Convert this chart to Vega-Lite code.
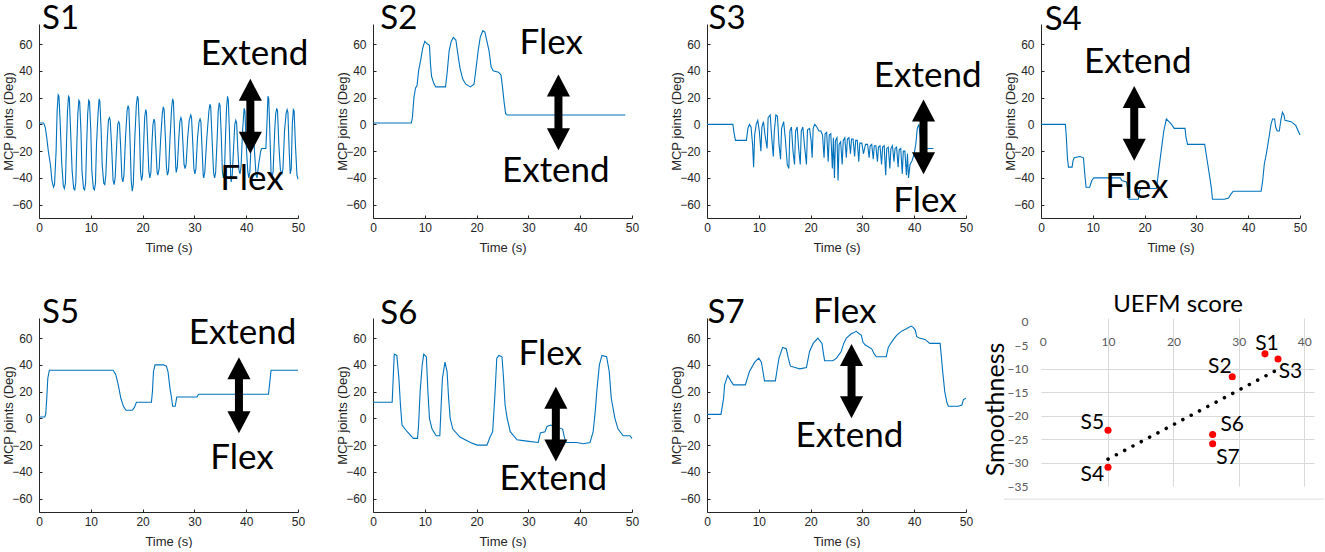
{
"$schema": "https://vega.github.io/schema/vega-lite/v6.json",
"background": "white",
"padding": {"left": 2, "top": 2, "right": 0, "bottom": 0},
"autosize": {"type": "pad"},
"datasets": {
"d": [
{"p":"S1","k":"S","t":0.6,"v":71.3,"s":"S1"},
{"p":"S2","k":"S","t":1.4,"v":71.1,"s":"S2"},
{"p":"S3","k":"S","t":0.3,"v":71.3,"s":"S3"},
{"p":"S4","k":"S","t":0.7,"v":70.8,"s":"S4"},
{"p":"S5","k":"S","t":0.6,"v":70.9,"s":"S5"},
{"p":"S6","k":"S","t":1.4,"v":70.8,"s":"S6"},
{"p":"S7","k":"S","t":0.1,"v":70.9,"s":"S7"},
{"p":"S1","k":"W","t":41.6,"v":44,"s":"Extend"},
{"p":"S1","k":"W","t":41.1,"v":-49.2,"s":"Flex"},
{"p":"S2","k":"W","t":34.4,"v":52.3,"s":"Flex"},
{"p":"S2","k":"W","t":35.3,"v":-43.2,"s":"Extend"},
{"p":"S3","k":"W","t":42.6,"v":27.8,"s":"Extend"},
{"p":"S3","k":"W","t":42.1,"v":-65.3,"s":"Flex"},
{"p":"S4","k":"W","t":18.7,"v":38.5,"s":"Extend"},
{"p":"S4","k":"W","t":18.5,"v":-54.7,"s":"Flex"},
{"p":"S5","k":"W","t":39.3,"v":55.5,"s":"Extend"},
{"p":"S5","k":"W","t":39.2,"v":-37.8,"s":"Flex"},
{"p":"S6","k":"W","t":34.2,"v":39.8,"s":"Flex"},
{"p":"S6","k":"W","t":34.8,"v":-53.4,"s":"Extend"},
{"p":"S7","k":"W","t":26.6,"v":70.9,"s":"Flex"},
{"p":"S7","k":"W","t":27.5,"v":-21.1,"s":"Extend"},
{"p":"S1","k":"A","t":40.8,"v":22,"v2":-9.9},{"p":"S1","k":"U","t":40.8,"v":34},{"p":"S1","k":"D","t":40.8,"v":-21.9},
{"p":"S2","k":"A","t":35.8,"v":25.2,"v2":-7.3},{"p":"S2","k":"U","t":35.8,"v":37.2},{"p":"S2","k":"D","t":35.8,"v":-19.3},
{"p":"S3","k":"A","t":41.8,"v":6.6,"v2":-25.3},{"p":"S3","k":"U","t":41.8,"v":18.6},{"p":"S3","k":"D","t":41.8,"v":-37.3},
{"p":"S4","k":"A","t":18.0,"v":16.6,"v2":-15.3},{"p":"S4","k":"U","t":18.0,"v":28.6},{"p":"S4","k":"D","t":18.0,"v":-27.3},
{"p":"S5","k":"A","t":38.6,"v":33.6,"v2":0.8},{"p":"S5","k":"U","t":38.6,"v":45.6},{"p":"S5","k":"D","t":38.6,"v":-11.2},
{"p":"S6","k":"A","t":35.3,"v":11.6,"v2":-20.3},{"p":"S6","k":"U","t":35.3,"v":23.6},{"p":"S6","k":"D","t":35.3,"v":-32.3},
{"p":"S7","k":"A","t":27.9,"v":43.5,"v2":12},{"p":"S7","k":"U","t":27.9,"v":55.5},{"p":"S7","k":"D","t":27.9,"v":0},
{"p":"S1","k":"L","t":0,"v":1},{"p":"S1","k":"L","t":0.9,"v":1},{"p":"S1","k":"L","t":1.2,"v":-2},{"p":"S1","k":"L","t":1.5,"v":-10},{"p":"S1","k":"L","t":1.8,"v":-20},{"p":"S1","k":"L","t":2.2,"v":-30},{"p":"S1","k":"L","t":2.5,"v":-42},{"p":"S1","k":"L","t":2.8,"v":-47},{"p":"S1","k":"L","t":3.0,"v":-45},{"p":"S1","k":"L","t":3.3,"v":-20},{"p":"S1","k":"L","t":3.5,"v":10},{"p":"S1","k":"L","t":3.7,"v":22},{"p":"S1","k":"L","t":3.85,"v":21},{"p":"S1","k":"L","t":4.1,"v":0},{"p":"S1","k":"L","t":4.4,"v":-30},{"p":"S1","k":"L","t":4.7,"v":-46},{"p":"S1","k":"L","t":4.9,"v":-48},{"p":"S1","k":"L","t":5.1,"v":-44},{"p":"S1","k":"L","t":5.3,"v":-15},{"p":"S1","k":"L","t":5.5,"v":10},{"p":"S1","k":"L","t":5.7,"v":21},{"p":"S1","k":"L","t":5.85,"v":20},{"p":"S1","k":"L","t":6.1,"v":-5},{"p":"S1","k":"L","t":6.4,"v":-35},{"p":"S1","k":"L","t":6.7,"v":-48},{"p":"S1","k":"L","t":6.9,"v":-49},{"p":"S1","k":"L","t":7.1,"v":-44},{"p":"S1","k":"L","t":7.3,"v":-15},{"p":"S1","k":"L","t":7.5,"v":8},{"p":"S1","k":"L","t":7.7,"v":18},{"p":"S1","k":"L","t":7.85,"v":17},{"p":"S1","k":"L","t":8.1,"v":-5},{"p":"S1","k":"L","t":8.3,"v":-35},{"p":"S1","k":"L","t":8.6,"v":-48},{"p":"S1","k":"L","t":8.8,"v":-49},{"p":"S1","k":"L","t":9.0,"v":-44},{"p":"S1","k":"L","t":9.2,"v":-15},{"p":"S1","k":"L","t":9.4,"v":8},{"p":"S1","k":"L","t":9.6,"v":18},{"p":"S1","k":"L","t":9.75,"v":17},{"p":"S1","k":"L","t":10.0,"v":-5},{"p":"S1","k":"L","t":10.2,"v":-35},{"p":"S1","k":"L","t":10.5,"v":-48},{"p":"S1","k":"L","t":10.7,"v":-49},{"p":"S1","k":"L","t":10.9,"v":-44},{"p":"S1","k":"L","t":11.1,"v":-15},{"p":"S1","k":"L","t":11.4,"v":8},{"p":"S1","k":"L","t":11.6,"v":19},{"p":"S1","k":"L","t":11.75,"v":17},{"p":"S1","k":"L","t":12.0,"v":-5},{"p":"S1","k":"L","t":12.2,"v":-30},{"p":"S1","k":"L","t":12.5,"v":-44},{"p":"S1","k":"L","t":12.7,"v":-45},{"p":"S1","k":"L","t":12.9,"v":-38},{"p":"S1","k":"L","t":13.2,"v":-10},{"p":"S1","k":"L","t":13.4,"v":3},{"p":"S1","k":"L","t":13.6,"v":5},{"p":"S1","k":"L","t":13.75,"v":3},{"p":"S1","k":"L","t":14.0,"v":-15},{"p":"S1","k":"L","t":14.3,"v":-42},{"p":"S1","k":"L","t":14.5,"v":-45},{"p":"S1","k":"L","t":14.7,"v":-40},{"p":"S1","k":"L","t":15.0,"v":-15},{"p":"S1","k":"L","t":15.2,"v":0},{"p":"S1","k":"L","t":15.4,"v":2},{"p":"S1","k":"L","t":15.55,"v":0},{"p":"S1","k":"L","t":15.8,"v":-20},{"p":"S1","k":"L","t":16.0,"v":-40},{"p":"S1","k":"L","t":16.2,"v":-43},{"p":"S1","k":"L","t":16.4,"v":-38},{"p":"S1","k":"L","t":16.7,"v":-10},{"p":"S1","k":"L","t":17.0,"v":10},{"p":"S1","k":"L","t":17.2,"v":14},{"p":"S1","k":"L","t":17.35,"v":12},{"p":"S1","k":"L","t":17.6,"v":-15},{"p":"S1","k":"L","t":17.8,"v":-42},{"p":"S1","k":"L","t":18.0,"v":-50},{"p":"S1","k":"L","t":18.2,"v":-45},{"p":"S1","k":"L","t":18.5,"v":-10},{"p":"S1","k":"L","t":18.8,"v":15},{"p":"S1","k":"L","t":19.0,"v":21},{"p":"S1","k":"L","t":19.15,"v":19},{"p":"S1","k":"L","t":19.4,"v":-5},{"p":"S1","k":"L","t":19.6,"v":-35},{"p":"S1","k":"L","t":19.8,"v":-42},{"p":"S1","k":"L","t":20.0,"v":-38},{"p":"S1","k":"L","t":20.2,"v":-15},{"p":"S1","k":"L","t":20.4,"v":5},{"p":"S1","k":"L","t":20.6,"v":11},{"p":"S1","k":"L","t":20.75,"v":9},{"p":"S1","k":"L","t":21.0,"v":-15},{"p":"S1","k":"L","t":21.2,"v":-35},{"p":"S1","k":"L","t":21.4,"v":-40},{"p":"S1","k":"L","t":21.6,"v":-36},{"p":"S1","k":"L","t":21.8,"v":-15},{"p":"S1","k":"L","t":22.0,"v":0},{"p":"S1","k":"L","t":22.2,"v":4},{"p":"S1","k":"L","t":22.35,"v":2},{"p":"S1","k":"L","t":22.6,"v":-20},{"p":"S1","k":"L","t":22.8,"v":-36},{"p":"S1","k":"L","t":22.95,"v":-38},{"p":"S1","k":"L","t":23.2,"v":-33},{"p":"S1","k":"L","t":23.5,"v":-10},{"p":"S1","k":"L","t":23.8,"v":8},{"p":"S1","k":"L","t":24.0,"v":13},{"p":"S1","k":"L","t":24.15,"v":11},{"p":"S1","k":"L","t":24.4,"v":-10},{"p":"S1","k":"L","t":24.6,"v":-32},{"p":"S1","k":"L","t":24.8,"v":-38},{"p":"S1","k":"L","t":25.0,"v":-35},{"p":"S1","k":"L","t":25.3,"v":-10},{"p":"S1","k":"L","t":25.6,"v":12},{"p":"S1","k":"L","t":25.8,"v":19},{"p":"S1","k":"L","t":25.95,"v":17},{"p":"S1","k":"L","t":26.2,"v":-10},{"p":"S1","k":"L","t":26.4,"v":-32},{"p":"S1","k":"L","t":26.5,"v":-36},{"p":"S1","k":"L","t":26.7,"v":-32},{"p":"S1","k":"L","t":27.0,"v":-10},{"p":"S1","k":"L","t":27.2,"v":2},{"p":"S1","k":"L","t":27.4,"v":5},{"p":"S1","k":"L","t":27.55,"v":3},{"p":"S1","k":"L","t":27.8,"v":-15},{"p":"S1","k":"L","t":28.0,"v":-30},{"p":"S1","k":"L","t":28.2,"v":-33},{"p":"S1","k":"L","t":28.4,"v":-30},{"p":"S1","k":"L","t":28.7,"v":-10},{"p":"S1","k":"L","t":29.0,"v":3},{"p":"S1","k":"L","t":29.3,"v":7},{"p":"S1","k":"L","t":29.45,"v":5},{"p":"S1","k":"L","t":29.7,"v":-15},{"p":"S1","k":"L","t":29.9,"v":-33},{"p":"S1","k":"L","t":30.1,"v":-37},{"p":"S1","k":"L","t":30.3,"v":-33},{"p":"S1","k":"L","t":30.6,"v":-10},{"p":"S1","k":"L","t":30.9,"v":2},{"p":"S1","k":"L","t":31.1,"v":4},{"p":"S1","k":"L","t":31.25,"v":2},{"p":"S1","k":"L","t":31.5,"v":-20},{"p":"S1","k":"L","t":31.7,"v":-38},{"p":"S1","k":"L","t":31.8,"v":-40},{"p":"S1","k":"L","t":32.0,"v":-36},{"p":"S1","k":"L","t":32.4,"v":-10},{"p":"S1","k":"L","t":32.8,"v":10},{"p":"S1","k":"L","t":33.0,"v":15},{"p":"S1","k":"L","t":33.15,"v":13},{"p":"S1","k":"L","t":33.4,"v":-10},{"p":"S1","k":"L","t":33.7,"v":-36},{"p":"S1","k":"L","t":33.9,"v":-40},{"p":"S1","k":"L","t":34.1,"v":-36},{"p":"S1","k":"L","t":34.4,"v":-10},{"p":"S1","k":"L","t":34.6,"v":10},{"p":"S1","k":"L","t":34.8,"v":16},{"p":"S1","k":"L","t":34.95,"v":14},{"p":"S1","k":"L","t":35.2,"v":-10},{"p":"S1","k":"L","t":35.4,"v":-35},{"p":"S1","k":"L","t":35.6,"v":-40},{"p":"S1","k":"L","t":35.8,"v":-36},{"p":"S1","k":"L","t":36.0,"v":-10},{"p":"S1","k":"L","t":36.2,"v":12},{"p":"S1","k":"L","t":36.4,"v":21},{"p":"S1","k":"L","t":36.55,"v":18},{"p":"S1","k":"L","t":36.8,"v":-10},{"p":"S1","k":"L","t":37.0,"v":-38},{"p":"S1","k":"L","t":37.1,"v":-43},{"p":"S1","k":"L","t":37.3,"v":-38},{"p":"S1","k":"L","t":37.6,"v":-15},{"p":"S1","k":"L","t":37.8,"v":0},{"p":"S1","k":"L","t":38.0,"v":3},{"p":"S1","k":"L","t":38.15,"v":1},{"p":"S1","k":"L","t":38.4,"v":-20},{"p":"S1","k":"L","t":38.6,"v":-34},{"p":"S1","k":"L","t":38.8,"v":-37},{"p":"S1","k":"L","t":39.0,"v":-32},{"p":"S1","k":"L","t":39.3,"v":-5},{"p":"S1","k":"L","t":39.6,"v":12},{"p":"S1","k":"L","t":39.75,"v":10},{"p":"S1","k":"L","t":40.0,"v":-15},{"p":"S1","k":"L","t":40.3,"v":-35},{"p":"S1","k":"L","t":40.5,"v":-40},{"p":"S1","k":"L","t":40.7,"v":-36},{"p":"S1","k":"L","t":41.0,"v":-10},{"p":"S1","k":"L","t":41.2,"v":5},{"p":"S1","k":"L","t":41.35,"v":3},{"p":"S1","k":"L","t":41.6,"v":-20},{"p":"S1","k":"L","t":41.9,"v":-38},{"p":"S1","k":"L","t":42.1,"v":-40},{"p":"S1","k":"L","t":42.4,"v":-30},{"p":"S1","k":"L","t":42.8,"v":-20},{"p":"S1","k":"L","t":43.0,"v":-18},{"p":"S1","k":"L","t":43.8,"v":-18},{"p":"S1","k":"L","t":44.0,"v":0},{"p":"S1","k":"L","t":44.2,"v":21},{"p":"S1","k":"L","t":44.35,"v":19},{"p":"S1","k":"L","t":44.6,"v":-10},{"p":"S1","k":"L","t":44.8,"v":-36},{"p":"S1","k":"L","t":45.0,"v":-40},{"p":"S1","k":"L","t":45.2,"v":-35},{"p":"S1","k":"L","t":45.5,"v":-5},{"p":"S1","k":"L","t":45.7,"v":8},{"p":"S1","k":"L","t":45.9,"v":12},{"p":"S1","k":"L","t":46.05,"v":10},{"p":"S1","k":"L","t":46.3,"v":-15},{"p":"S1","k":"L","t":46.6,"v":-34},{"p":"S1","k":"L","t":46.9,"v":-37},{"p":"S1","k":"L","t":47.1,"v":-33},{"p":"S1","k":"L","t":47.4,"v":-5},{"p":"S1","k":"L","t":47.7,"v":8},{"p":"S1","k":"L","t":47.9,"v":11},{"p":"S1","k":"L","t":48.05,"v":9},{"p":"S1","k":"L","t":48.3,"v":-20},{"p":"S1","k":"L","t":48.5,"v":-37},{"p":"S1","k":"L","t":48.7,"v":-33},{"p":"S1","k":"L","t":48.9,"v":0},{"p":"S1","k":"L","t":49.1,"v":11},{"p":"S1","k":"L","t":49.25,"v":10},{"p":"S1","k":"L","t":49.5,"v":-15},{"p":"S1","k":"L","t":49.8,"v":-38},{"p":"S1","k":"L","t":50,"v":-41},
{"p":"S2","k":"L","t":0,"v":1},{"p":"S2","k":"L","t":7.4,"v":1},{"p":"S2","k":"L","t":7.6,"v":5},{"p":"S2","k":"L","t":7.9,"v":20},{"p":"S2","k":"L","t":8.2,"v":27},{"p":"S2","k":"L","t":8.5,"v":29},{"p":"S2","k":"L","t":8.8,"v":40},{"p":"S2","k":"L","t":9.2,"v":48},{"p":"S2","k":"L","t":9.6,"v":57},{"p":"S2","k":"L","t":10.0,"v":62},{"p":"S2","k":"L","t":10.5,"v":60},{"p":"S2","k":"L","t":10.9,"v":59},{"p":"S2","k":"L","t":11.1,"v":45},{"p":"S2","k":"L","t":11.3,"v":36},{"p":"S2","k":"L","t":11.7,"v":31},{"p":"S2","k":"L","t":12.1,"v":28},{"p":"S2","k":"L","t":14.0,"v":28},{"p":"S2","k":"L","t":14.3,"v":38},{"p":"S2","k":"L","t":14.7,"v":55},{"p":"S2","k":"L","t":15.1,"v":62},{"p":"S2","k":"L","t":15.5,"v":65},{"p":"S2","k":"L","t":16.0,"v":63},{"p":"S2","k":"L","t":16.4,"v":52},{"p":"S2","k":"L","t":16.8,"v":42},{"p":"S2","k":"L","t":17.3,"v":34},{"p":"S2","k":"L","t":17.9,"v":30},{"p":"S2","k":"L","t":18.8,"v":28},{"p":"S2","k":"L","t":19.5,"v":30},{"p":"S2","k":"L","t":19.9,"v":42},{"p":"S2","k":"L","t":20.3,"v":55},{"p":"S2","k":"L","t":20.7,"v":65},{"p":"S2","k":"L","t":21.2,"v":70},{"p":"S2","k":"L","t":21.6,"v":69},{"p":"S2","k":"L","t":22.0,"v":62},{"p":"S2","k":"L","t":22.4,"v":55},{"p":"S2","k":"L","t":22.8,"v":43},{"p":"S2","k":"L","t":23.2,"v":40},{"p":"S2","k":"L","t":24.2,"v":39},{"p":"S2","k":"L","t":24.7,"v":37},{"p":"S2","k":"L","t":25.0,"v":28},{"p":"S2","k":"L","t":25.3,"v":17},{"p":"S2","k":"L","t":25.6,"v":8},{"p":"S2","k":"L","t":25.9,"v":7},{"p":"S2","k":"L","t":48.7,"v":7},
{"p":"S3","k":"L","t":0,"v":0},{"p":"S3","k":"L","t":5.0,"v":0},{"p":"S3","k":"L","t":5.2,"v":-6},{"p":"S3","k":"L","t":5.5,"v":-12},{"p":"S3","k":"L","t":7.6,"v":-12},{"p":"S3","k":"L","t":7.9,"v":-3},{"p":"S3","k":"L","t":8.2,"v":0},{"p":"S3","k":"L","t":8.5,"v":-2},{"p":"S3","k":"L","t":8.8,"v":-15},{"p":"S3","k":"L","t":9.0,"v":-32},{"p":"S3","k":"L","t":9.2,"v":-8},{"p":"S3","k":"L","t":9.5,"v":0},{"p":"S3","k":"L","t":9.8,"v":3},{"p":"S3","k":"L","t":10.1,"v":-5},{"p":"S3","k":"L","t":10.4,"v":-20},{"p":"S3","k":"L","t":10.6,"v":-2},{"p":"S3","k":"L","t":10.9,"v":2},{"p":"S3","k":"L","t":11.2,"v":-8},{"p":"S3","k":"L","t":11.6,"v":-18},{"p":"S3","k":"L","t":11.8,"v":5},{"p":"S3","k":"L","t":12.2,"v":7},{"p":"S3","k":"L","t":12.5,"v":-10},{"p":"S3","k":"L","t":12.8,"v":-24},{"p":"S3","k":"L","t":13.0,"v":-5},{"p":"S3","k":"L","t":13.3,"v":7},{"p":"S3","k":"L","t":13.6,"v":6},{"p":"S3","k":"L","t":13.9,"v":-15},{"p":"S3","k":"L","t":14.2,"v":-26},{"p":"S3","k":"L","t":14.4,"v":-3},{"p":"S3","k":"L","t":14.8,"v":2},{"p":"S3","k":"L","t":15.1,"v":-10},{"p":"S3","k":"L","t":15.5,"v":-30},{"p":"S3","k":"L","t":15.8,"v":-33},{"p":"S3","k":"L","t":16.0,"v":-5},{"p":"S3","k":"L","t":16.3,"v":-2},{"p":"S3","k":"L","t":16.6,"v":-20},{"p":"S3","k":"L","t":16.9,"v":-30},{"p":"S3","k":"L","t":17.1,"v":-5},{"p":"S3","k":"L","t":17.4,"v":-2},{"p":"S3","k":"L","t":17.7,"v":-18},{"p":"S3","k":"L","t":18.0,"v":-30},{"p":"S3","k":"L","t":18.2,"v":-5},{"p":"S3","k":"L","t":18.5,"v":-2},{"p":"S3","k":"L","t":18.8,"v":-15},{"p":"S3","k":"L","t":19.2,"v":-30},{"p":"S3","k":"L","t":19.4,"v":-4},{"p":"S3","k":"L","t":19.8,"v":-3},{"p":"S3","k":"L","t":20.1,"v":-12},{"p":"S3","k":"L","t":20.3,"v":-25},{"p":"S3","k":"L","t":20.5,"v":-3},{"p":"S3","k":"L","t":20.8,"v":0},{"p":"S3","k":"L","t":21.2,"v":-2},{"p":"S3","k":"L","t":21.6,"v":-5},{"p":"S3","k":"L","t":22.0,"v":-5},{"p":"S3","k":"L","t":22.3,"v":-8},{"p":"S3","k":"L","t":22.6,"v":-25},{"p":"S3","k":"L","t":22.8,"v":-7},{"p":"S3","k":"L","t":23.1,"v":-6},{"p":"S3","k":"L","t":23.4,"v":-28},{"p":"S3","k":"L","t":23.6,"v":-8},{"p":"S3","k":"L","t":23.9,"v":-7},{"p":"S3","k":"L","t":24.2,"v":-33},{"p":"S3","k":"L","t":24.4,"v":-10},{"p":"S3","k":"L","t":24.6,"v":-40},{"p":"S3","k":"L","t":24.8,"v":-12},{"p":"S3","k":"L","t":25.1,"v":-10},{"p":"S3","k":"L","t":25.3,"v":-42},{"p":"S3","k":"L","t":25.5,"v":-15},{"p":"S3","k":"L","t":25.8,"v":-13},{"p":"S3","k":"L","t":26.1,"v":-30},{"p":"S3","k":"L","t":26.3,"v":-12},{"p":"S3","k":"L","t":26.6,"v":-10},{"p":"S3","k":"L","t":26.9,"v":-25},{"p":"S3","k":"L","t":27.1,"v":-11},{"p":"S3","k":"L","t":27.4,"v":-10},{"p":"S3","k":"L","t":27.7,"v":-22},{"p":"S3","k":"L","t":27.9,"v":-11},{"p":"S3","k":"L","t":28.2,"v":-11},{"p":"S3","k":"L","t":28.5,"v":-24},{"p":"S3","k":"L","t":28.7,"v":-12},{"p":"S3","k":"L","t":29.0,"v":-12},{"p":"S3","k":"L","t":29.3,"v":-28},{"p":"S3","k":"L","t":29.5,"v":-14},{"p":"S3","k":"L","t":29.9,"v":-14},{"p":"S3","k":"L","t":30.2,"v":-22},{"p":"S3","k":"L","t":30.6,"v":-15},{"p":"S3","k":"L","t":31.0,"v":-15},{"p":"S3","k":"L","t":31.3,"v":-25},{"p":"S3","k":"L","t":31.5,"v":-16},{"p":"S3","k":"L","t":31.8,"v":-15},{"p":"S3","k":"L","t":32.1,"v":-26},{"p":"S3","k":"L","t":32.3,"v":-16},{"p":"S3","k":"L","t":32.6,"v":-16},{"p":"S3","k":"L","t":32.9,"v":-28},{"p":"S3","k":"L","t":33.1,"v":-17},{"p":"S3","k":"L","t":33.4,"v":-16},{"p":"S3","k":"L","t":33.7,"v":-30},{"p":"S3","k":"L","t":33.9,"v":-17},{"p":"S3","k":"L","t":34.2,"v":-16},{"p":"S3","k":"L","t":34.5,"v":-38},{"p":"S3","k":"L","t":34.7,"v":-18},{"p":"S3","k":"L","t":35.0,"v":-17},{"p":"S3","k":"L","t":35.3,"v":-33},{"p":"S3","k":"L","t":35.5,"v":-18},{"p":"S3","k":"L","t":35.8,"v":-16},{"p":"S3","k":"L","t":36.1,"v":-28},{"p":"S3","k":"L","t":36.3,"v":-18},{"p":"S3","k":"L","t":36.6,"v":-17},{"p":"S3","k":"L","t":36.9,"v":-32},{"p":"S3","k":"L","t":37.1,"v":-19},{"p":"S3","k":"L","t":37.4,"v":-18},{"p":"S3","k":"L","t":37.7,"v":-37},{"p":"S3","k":"L","t":37.9,"v":-20},{"p":"S3","k":"L","t":38.2,"v":-20},{"p":"S3","k":"L","t":38.5,"v":-38},{"p":"S3","k":"L","t":38.7,"v":-22},{"p":"S3","k":"L","t":38.9,"v":-40},{"p":"S3","k":"L","t":39.2,"v":-30},{"p":"S3","k":"L","t":39.6,"v":-27},{"p":"S3","k":"L","t":40.0,"v":-22},{"p":"S3","k":"L","t":40.3,"v":-15},{"p":"S3","k":"L","t":40.6,"v":-3},{"p":"S3","k":"L","t":40.9,"v":0},{"p":"S3","k":"L","t":41.2,"v":-10},{"p":"S3","k":"L","t":41.6,"v":-18},{"p":"S3","k":"L","t":43.7,"v":-18},
{"p":"S4","k":"L","t":0,"v":0},{"p":"S4","k":"L","t":4.7,"v":0},{"p":"S4","k":"L","t":4.9,"v":-10},{"p":"S4","k":"L","t":5.1,"v":-25},{"p":"S4","k":"L","t":5.3,"v":-32},{"p":"S4","k":"L","t":6.0,"v":-32},{"p":"S4","k":"L","t":6.2,"v":-27},{"p":"S4","k":"L","t":6.4,"v":-25},{"p":"S4","k":"L","t":7.5,"v":-24},{"p":"S4","k":"L","t":8.2,"v":-25},{"p":"S4","k":"L","t":8.4,"v":-35},{"p":"S4","k":"L","t":8.7,"v":-47},{"p":"S4","k":"L","t":9.4,"v":-47},{"p":"S4","k":"L","t":9.8,"v":-42},{"p":"S4","k":"L","t":10.2,"v":-40},{"p":"S4","k":"L","t":15.3,"v":-40},{"p":"S4","k":"L","t":15.6,"v":-42},{"p":"S4","k":"L","t":16.5,"v":-43},{"p":"S4","k":"L","t":16.8,"v":-50},{"p":"S4","k":"L","t":17.0,"v":-56},{"p":"S4","k":"L","t":18.8,"v":-56},{"p":"S4","k":"L","t":19.0,"v":-50},{"p":"S4","k":"L","t":19.3,"v":-48},{"p":"S4","k":"L","t":22.3,"v":-48},{"p":"S4","k":"L","t":22.7,"v":-35},{"p":"S4","k":"L","t":23.2,"v":-20},{"p":"S4","k":"L","t":23.7,"v":-5},{"p":"S4","k":"L","t":24.2,"v":4},{"p":"S4","k":"L","t":24.7,"v":2},{"p":"S4","k":"L","t":25.2,"v":0},{"p":"S4","k":"L","t":25.7,"v":-3},{"p":"S4","k":"L","t":27.8,"v":-3},{"p":"S4","k":"L","t":28.0,"v":-10},{"p":"S4","k":"L","t":28.3,"v":-15},{"p":"S4","k":"L","t":31.6,"v":-15},{"p":"S4","k":"L","t":31.8,"v":-20},{"p":"S4","k":"L","t":32.2,"v":-30},{"p":"S4","k":"L","t":32.6,"v":-40},{"p":"S4","k":"L","t":32.9,"v":-48},{"p":"S4","k":"L","t":33.1,"v":-56},{"p":"S4","k":"L","t":35.4,"v":-56},{"p":"S4","k":"L","t":36.2,"v":-55},{"p":"S4","k":"L","t":36.7,"v":-52},{"p":"S4","k":"L","t":37.1,"v":-50},{"p":"S4","k":"L","t":41.5,"v":-50},{"p":"S4","k":"L","t":42.5,"v":-50},{"p":"S4","k":"L","t":42.8,"v":-42},{"p":"S4","k":"L","t":43.1,"v":-30},{"p":"S4","k":"L","t":43.5,"v":-22},{"p":"S4","k":"L","t":44.0,"v":-10},{"p":"S4","k":"L","t":44.4,"v":0},{"p":"S4","k":"L","t":44.7,"v":4},{"p":"S4","k":"L","t":45.1,"v":4},{"p":"S4","k":"L","t":45.3,"v":-2},{"p":"S4","k":"L","t":45.6,"v":-5},{"p":"S4","k":"L","t":46.0,"v":-5},{"p":"S4","k":"L","t":46.3,"v":3},{"p":"S4","k":"L","t":46.6,"v":9},{"p":"S4","k":"L","t":46.9,"v":7},{"p":"S4","k":"L","t":47.1,"v":3},{"p":"S4","k":"L","t":48.3,"v":2},{"p":"S4","k":"L","t":49.2,"v":-1},{"p":"S4","k":"L","t":50,"v":-8},
{"p":"S5","k":"L","t":0,"v":1},{"p":"S5","k":"L","t":1.1,"v":1},{"p":"S5","k":"L","t":1.3,"v":3},{"p":"S5","k":"L","t":1.5,"v":15},{"p":"S5","k":"L","t":1.7,"v":30},{"p":"S5","k":"L","t":2.0,"v":36},{"p":"S5","k":"L","t":14.3,"v":36},{"p":"S5","k":"L","t":14.8,"v":33},{"p":"S5","k":"L","t":15.3,"v":25},{"p":"S5","k":"L","t":15.8,"v":15},{"p":"S5","k":"L","t":16.3,"v":9},{"p":"S5","k":"L","t":16.8,"v":6},{"p":"S5","k":"L","t":18.0,"v":6},{"p":"S5","k":"L","t":18.4,"v":8},{"p":"S5","k":"L","t":18.8,"v":12},{"p":"S5","k":"L","t":21.7,"v":12},{"p":"S5","k":"L","t":21.9,"v":20},{"p":"S5","k":"L","t":22.1,"v":35},{"p":"S5","k":"L","t":22.4,"v":40},{"p":"S5","k":"L","t":24.0,"v":40},{"p":"S5","k":"L","t":24.6,"v":39},{"p":"S5","k":"L","t":24.9,"v":35},{"p":"S5","k":"L","t":25.3,"v":22},{"p":"S5","k":"L","t":25.6,"v":15},{"p":"S5","k":"L","t":25.8,"v":9},{"p":"S5","k":"L","t":26.3,"v":9},{"p":"S5","k":"L","t":26.6,"v":16},{"p":"S5","k":"L","t":30.5,"v":16},{"p":"S5","k":"L","t":30.8,"v":18},{"p":"S5","k":"L","t":44.3,"v":18},{"p":"S5","k":"L","t":44.5,"v":25},{"p":"S5","k":"L","t":44.8,"v":36},{"p":"S5","k":"L","t":50,"v":36},
{"p":"S6","k":"L","t":0,"v":12},{"p":"S6","k":"L","t":3.7,"v":12},{"p":"S6","k":"L","t":3.9,"v":30},{"p":"S6","k":"L","t":4.1,"v":48},{"p":"S6","k":"L","t":4.6,"v":47},{"p":"S6","k":"L","t":5.0,"v":30},{"p":"S6","k":"L","t":5.3,"v":10},{"p":"S6","k":"L","t":5.6,"v":-5},{"p":"S6","k":"L","t":6.6,"v":-10},{"p":"S6","k":"L","t":7.8,"v":-15},{"p":"S6","k":"L","t":8.6,"v":-15},{"p":"S6","k":"L","t":8.8,"v":-5},{"p":"S6","k":"L","t":9.1,"v":20},{"p":"S6","k":"L","t":9.5,"v":40},{"p":"S6","k":"L","t":9.8,"v":48},{"p":"S6","k":"L","t":10.3,"v":46},{"p":"S6","k":"L","t":10.6,"v":20},{"p":"S6","k":"L","t":10.9,"v":0},{"p":"S6","k":"L","t":11.4,"v":-8},{"p":"S6","k":"L","t":12.2,"v":-13},{"p":"S6","k":"L","t":12.9,"v":-13},{"p":"S6","k":"L","t":13.1,"v":5},{"p":"S6","k":"L","t":13.4,"v":30},{"p":"S6","k":"L","t":13.9,"v":42},{"p":"S6","k":"L","t":14.3,"v":35},{"p":"S6","k":"L","t":14.6,"v":15},{"p":"S6","k":"L","t":14.9,"v":0},{"p":"S6","k":"L","t":15.4,"v":-8},{"p":"S6","k":"L","t":16.8,"v":-14},{"p":"S6","k":"L","t":18.8,"v":-18},{"p":"S6","k":"L","t":20.1,"v":-20},{"p":"S6","k":"L","t":22.0,"v":-20},{"p":"S6","k":"L","t":22.6,"v":-14},{"p":"S6","k":"L","t":23.1,"v":-10},{"p":"S6","k":"L","t":23.5,"v":15},{"p":"S6","k":"L","t":23.9,"v":45},{"p":"S6","k":"L","t":24.3,"v":47},{"p":"S6","k":"L","t":24.9,"v":46},{"p":"S6","k":"L","t":25.2,"v":30},{"p":"S6","k":"L","t":25.5,"v":10},{"p":"S6","k":"L","t":25.9,"v":0},{"p":"S6","k":"L","t":26.5,"v":-10},{"p":"S6","k":"L","t":27.8,"v":-16},{"p":"S6","k":"L","t":29.7,"v":-17},{"p":"S6","k":"L","t":31.9,"v":-18},{"p":"S6","k":"L","t":32.3,"v":-11},{"p":"S6","k":"L","t":33.2,"v":-10},{"p":"S6","k":"L","t":33.6,"v":-6},{"p":"S6","k":"L","t":34.3,"v":-5},{"p":"S6","k":"L","t":36.6,"v":-8},{"p":"S6","k":"L","t":37.0,"v":-15},{"p":"S6","k":"L","t":37.3,"v":-18},{"p":"S6","k":"L","t":39.3,"v":-18},{"p":"S6","k":"L","t":40.6,"v":-19},{"p":"S6","k":"L","t":41.9,"v":-18},{"p":"S6","k":"L","t":42.5,"v":-10},{"p":"S6","k":"L","t":42.9,"v":5},{"p":"S6","k":"L","t":43.2,"v":20},{"p":"S6","k":"L","t":43.7,"v":40},{"p":"S6","k":"L","t":44.2,"v":47},{"p":"S6","k":"L","t":45.1,"v":46},{"p":"S6","k":"L","t":45.6,"v":35},{"p":"S6","k":"L","t":46.0,"v":15},{"p":"S6","k":"L","t":46.7,"v":0},{"p":"S6","k":"L","t":47.3,"v":-8},{"p":"S6","k":"L","t":47.7,"v":-10},{"p":"S6","k":"L","t":48.3,"v":-13},{"p":"S6","k":"L","t":49.6,"v":-13},{"p":"S6","k":"L","t":50,"v":-15},
{"p":"S7","k":"L","t":0,"v":3},{"p":"S7","k":"L","t":2.7,"v":3},{"p":"S7","k":"L","t":3.2,"v":15},{"p":"S7","k":"L","t":3.4,"v":25},{"p":"S7","k":"L","t":4.0,"v":32},{"p":"S7","k":"L","t":4.6,"v":28},{"p":"S7","k":"L","t":5.1,"v":25},{"p":"S7","k":"L","t":7.4,"v":25},{"p":"S7","k":"L","t":7.8,"v":30},{"p":"S7","k":"L","t":8.2,"v":35},{"p":"S7","k":"L","t":9.2,"v":42},{"p":"S7","k":"L","t":10.0,"v":45},{"p":"S7","k":"L","t":10.5,"v":42},{"p":"S7","k":"L","t":10.8,"v":35},{"p":"S7","k":"L","t":11.1,"v":28},{"p":"S7","k":"L","t":13.2,"v":28},{"p":"S7","k":"L","t":13.6,"v":38},{"p":"S7","k":"L","t":13.9,"v":45},{"p":"S7","k":"L","t":14.6,"v":53},{"p":"S7","k":"L","t":15.3,"v":52},{"p":"S7","k":"L","t":15.7,"v":45},{"p":"S7","k":"L","t":16.1,"v":39},{"p":"S7","k":"L","t":17.0,"v":38},{"p":"S7","k":"L","t":17.9,"v":37},{"p":"S7","k":"L","t":19.2,"v":38},{"p":"S7","k":"L","t":19.8,"v":50},{"p":"S7","k":"L","t":20.5,"v":56},{"p":"S7","k":"L","t":21.4,"v":60},{"p":"S7","k":"L","t":22.2,"v":56},{"p":"S7","k":"L","t":22.5,"v":48},{"p":"S7","k":"L","t":22.7,"v":43},{"p":"S7","k":"L","t":24.3,"v":43},{"p":"S7","k":"L","t":25.0,"v":45},{"p":"S7","k":"L","t":25.9,"v":50},{"p":"S7","k":"L","t":26.4,"v":56},{"p":"S7","k":"L","t":26.9,"v":60},{"p":"S7","k":"L","t":27.8,"v":63},{"p":"S7","k":"L","t":28.8,"v":65},{"p":"S7","k":"L","t":29.8,"v":62},{"p":"S7","k":"L","t":30.1,"v":57},{"p":"S7","k":"L","t":30.5,"v":55},{"p":"S7","k":"L","t":31.8,"v":52},{"p":"S7","k":"L","t":32.3,"v":48},{"p":"S7","k":"L","t":32.7,"v":46},{"p":"S7","k":"L","t":34.6,"v":46},{"p":"S7","k":"L","t":35.0,"v":53},{"p":"S7","k":"L","t":35.3,"v":55},{"p":"S7","k":"L","t":36.0,"v":59},{"p":"S7","k":"L","t":36.6,"v":62},{"p":"S7","k":"L","t":37.5,"v":65},{"p":"S7","k":"L","t":38.5,"v":67},{"p":"S7","k":"L","t":39.4,"v":69},{"p":"S7","k":"L","t":39.8,"v":68},{"p":"S7","k":"L","t":40.2,"v":66},{"p":"S7","k":"L","t":40.5,"v":61},{"p":"S7","k":"L","t":41.0,"v":60},{"p":"S7","k":"L","t":42.1,"v":59},{"p":"S7","k":"L","t":43.0,"v":56},{"p":"S7","k":"L","t":45.0,"v":56},{"p":"S7","k":"L","t":45.2,"v":48},{"p":"S7","k":"L","t":45.5,"v":35},{"p":"S7","k":"L","t":45.9,"v":20},{"p":"S7","k":"L","t":46.3,"v":12},{"p":"S7","k":"L","t":46.6,"v":9},{"p":"S7","k":"L","t":48.5,"v":9},{"p":"S7","k":"L","t":49.2,"v":10},{"p":"S7","k":"L","t":49.5,"v":14},{"p":"S7","k":"L","t":50,"v":15}
],
"sc": [
{"k":"P","x":34,"y":-6.8,"s":"S1"},
{"k":"P","x":29,"y":-11.7,"s":"S2"},
{"k":"P","x":36,"y":-7.9,"s":"S3"},
{"k":"P","x":10,"y":-31,"s":"S4"},
{"k":"P","x":10,"y":-23.1,"s":"S5"},
{"k":"P","x":26,"y":-24,"s":"S6"},
{"k":"P","x":26,"y":-26,"s":"S7"},
{"k":"T","x":34.3,"y":-5.98,"s":"S1"},
{"k":"T","x":27.1,"y":-10.8,"s":"S2"},
{"k":"T","x":37.9,"y":-12.0,"s":"S3"},
{"k":"T","x":7.6,"y":-33.9,"s":"S4"},
{"k":"T","x":7.6,"y":-22.9,"s":"S5"},
{"k":"T","x":29.0,"y":-23.3,"s":"S6"},
{"k":"T","x":28.35,"y":-30.4,"s":"S7"},
{"k":"B","x":-5.9,"x2":43.0,"y":-37.8}
]
},
"columns": 4,
"spacing": {"row": 100, "column": 75},
"bounds": "flush",
"concat": [
{"data": {"name": "d"}, "transform": [{"filter": "datum.p=='S1'"}], "width": 259, "height": 194,
"encoding": {"x": {"field": "t", "type": "quantitative", "scale": {"domain": [0, 50], "nice": false}, "axis": {"values": [0,10,20,30,40,50], "title": "Time (s)"}}, "y": {"field": "v", "type": "quantitative", "scale": {"domain": [-70, 75], "nice": false}, "axis": {"values": [-60,-40,-20,0,20,40,60], "title": "MCP joints (Deg)"}}},
"layer": [
{"transform": [{"filter": "datum.k=='L'"}], "mark": {"type": "line", "color": "#0072BD", "strokeWidth": 1.1}},
{"transform": [{"filter": "datum.k=='A'"}], "mark": {"type": "rule", "color": "black", "strokeWidth": 8}, "encoding": {"y2": {"field": "v2"}}},
{"transform": [{"filter": "datum.k=='U'"}], "mark": {"type": "point", "filled": true, "color": "black", "opacity": 1, "strokeWidth": 0, "size": 484, "shape": "M0,-1L1.05,1L-1.05,1Z", "yOffset": 11}},
{"transform": [{"filter": "datum.k=='D'"}], "mark": {"type": "point", "filled": true, "color": "black", "opacity": 1, "strokeWidth": 0, "size": 484, "shape": "M0,1L1.05,-1L-1.05,-1Z", "yOffset": -11}},
{"transform": [{"filter": "datum.k=='S'"}], "mark": {"type": "text", "align": "left", "baseline": "alphabetic", "font": "Lato", "fontSize": 33, "color": "black"}, "encoding": {"text": {"field": "s"}}},
{"transform": [{"filter": "datum.k=='W'"}], "mark": {"type": "text", "align": "center", "baseline": "alphabetic", "font": "Lato", "fontSize": 35, "color": "black"}, "encoding": {"text": {"field": "s"}}}
]},
{"data": {"name": "d"}, "transform": [{"filter": "datum.p=='S2'"}], "width": 259, "height": 194,
"encoding": {"x": {"field": "t", "type": "quantitative", "scale": {"domain": [0, 50], "nice": false}, "axis": {"values": [0,10,20,30,40,50], "title": "Time (s)"}}, "y": {"field": "v", "type": "quantitative", "scale": {"domain": [-70, 75], "nice": false}, "axis": {"values": [-60,-40,-20,0,20,40,60], "title": "MCP joints (Deg)"}}},
"layer": [
{"transform": [{"filter": "datum.k=='L'"}], "mark": {"type": "line", "color": "#0072BD", "strokeWidth": 1.1}},
{"transform": [{"filter": "datum.k=='A'"}], "mark": {"type": "rule", "color": "black", "strokeWidth": 8}, "encoding": {"y2": {"field": "v2"}}},
{"transform": [{"filter": "datum.k=='U'"}], "mark": {"type": "point", "filled": true, "color": "black", "opacity": 1, "strokeWidth": 0, "size": 484, "shape": "M0,-1L1.05,1L-1.05,1Z", "yOffset": 11}},
{"transform": [{"filter": "datum.k=='D'"}], "mark": {"type": "point", "filled": true, "color": "black", "opacity": 1, "strokeWidth": 0, "size": 484, "shape": "M0,1L1.05,-1L-1.05,-1Z", "yOffset": -11}},
{"transform": [{"filter": "datum.k=='S'"}], "mark": {"type": "text", "align": "left", "baseline": "alphabetic", "font": "Lato", "fontSize": 33, "color": "black"}, "encoding": {"text": {"field": "s"}}},
{"transform": [{"filter": "datum.k=='W'"}], "mark": {"type": "text", "align": "center", "baseline": "alphabetic", "font": "Lato", "fontSize": 35, "color": "black"}, "encoding": {"text": {"field": "s"}}}
]},
{"data": {"name": "d"}, "transform": [{"filter": "datum.p=='S3'"}], "width": 259, "height": 194,
"encoding": {"x": {"field": "t", "type": "quantitative", "scale": {"domain": [0, 50], "nice": false}, "axis": {"values": [0,10,20,30,40,50], "title": "Time (s)"}}, "y": {"field": "v", "type": "quantitative", "scale": {"domain": [-70, 75], "nice": false}, "axis": {"values": [-60,-40,-20,0,20,40,60], "title": "MCP joints (Deg)"}}},
"layer": [
{"transform": [{"filter": "datum.k=='L'"}], "mark": {"type": "line", "color": "#0072BD", "strokeWidth": 1.1}},
{"transform": [{"filter": "datum.k=='A'"}], "mark": {"type": "rule", "color": "black", "strokeWidth": 8}, "encoding": {"y2": {"field": "v2"}}},
{"transform": [{"filter": "datum.k=='U'"}], "mark": {"type": "point", "filled": true, "color": "black", "opacity": 1, "strokeWidth": 0, "size": 484, "shape": "M0,-1L1.05,1L-1.05,1Z", "yOffset": 11}},
{"transform": [{"filter": "datum.k=='D'"}], "mark": {"type": "point", "filled": true, "color": "black", "opacity": 1, "strokeWidth": 0, "size": 484, "shape": "M0,1L1.05,-1L-1.05,-1Z", "yOffset": -11}},
{"transform": [{"filter": "datum.k=='S'"}], "mark": {"type": "text", "align": "left", "baseline": "alphabetic", "font": "Lato", "fontSize": 33, "color": "black"}, "encoding": {"text": {"field": "s"}}},
{"transform": [{"filter": "datum.k=='W'"}], "mark": {"type": "text", "align": "center", "baseline": "alphabetic", "font": "Lato", "fontSize": 35, "color": "black"}, "encoding": {"text": {"field": "s"}}}
]},
{"data": {"name": "d"}, "transform": [{"filter": "datum.p=='S4'"}], "width": 259, "height": 194,
"encoding": {"x": {"field": "t", "type": "quantitative", "scale": {"domain": [0, 50], "nice": false}, "axis": {"values": [0,10,20,30,40,50], "title": "Time (s)"}}, "y": {"field": "v", "type": "quantitative", "scale": {"domain": [-70, 75], "nice": false}, "axis": {"values": [-60,-40,-20,0,20,40,60], "title": "MCP joints (Deg)"}}},
"layer": [
{"transform": [{"filter": "datum.k=='L'"}], "mark": {"type": "line", "color": "#0072BD", "strokeWidth": 1.1}},
{"transform": [{"filter": "datum.k=='A'"}], "mark": {"type": "rule", "color": "black", "strokeWidth": 8}, "encoding": {"y2": {"field": "v2"}}},
{"transform": [{"filter": "datum.k=='U'"}], "mark": {"type": "point", "filled": true, "color": "black", "opacity": 1, "strokeWidth": 0, "size": 484, "shape": "M0,-1L1.05,1L-1.05,1Z", "yOffset": 11}},
{"transform": [{"filter": "datum.k=='D'"}], "mark": {"type": "point", "filled": true, "color": "black", "opacity": 1, "strokeWidth": 0, "size": 484, "shape": "M0,1L1.05,-1L-1.05,-1Z", "yOffset": -11}},
{"transform": [{"filter": "datum.k=='S'"}], "mark": {"type": "text", "align": "left", "baseline": "alphabetic", "font": "Lato", "fontSize": 33, "color": "black"}, "encoding": {"text": {"field": "s"}}},
{"transform": [{"filter": "datum.k=='W'"}], "mark": {"type": "text", "align": "center", "baseline": "alphabetic", "font": "Lato", "fontSize": 35, "color": "black"}, "encoding": {"text": {"field": "s"}}}
]},
{"data": {"name": "d"}, "transform": [{"filter": "datum.p=='S5'"}], "width": 259, "height": 194,
"encoding": {"x": {"field": "t", "type": "quantitative", "scale": {"domain": [0, 50], "nice": false}, "axis": {"values": [0,10,20,30,40,50], "title": "Time (s)"}}, "y": {"field": "v", "type": "quantitative", "scale": {"domain": [-70, 75], "nice": false}, "axis": {"values": [-60,-40,-20,0,20,40,60], "title": "MCP joints (Deg)"}}},
"layer": [
{"transform": [{"filter": "datum.k=='L'"}], "mark": {"type": "line", "color": "#0072BD", "strokeWidth": 1.1}},
{"transform": [{"filter": "datum.k=='A'"}], "mark": {"type": "rule", "color": "black", "strokeWidth": 8}, "encoding": {"y2": {"field": "v2"}}},
{"transform": [{"filter": "datum.k=='U'"}], "mark": {"type": "point", "filled": true, "color": "black", "opacity": 1, "strokeWidth": 0, "size": 484, "shape": "M0,-1L1.05,1L-1.05,1Z", "yOffset": 11}},
{"transform": [{"filter": "datum.k=='D'"}], "mark": {"type": "point", "filled": true, "color": "black", "opacity": 1, "strokeWidth": 0, "size": 484, "shape": "M0,1L1.05,-1L-1.05,-1Z", "yOffset": -11}},
{"transform": [{"filter": "datum.k=='S'"}], "mark": {"type": "text", "align": "left", "baseline": "alphabetic", "font": "Lato", "fontSize": 33, "color": "black"}, "encoding": {"text": {"field": "s"}}},
{"transform": [{"filter": "datum.k=='W'"}], "mark": {"type": "text", "align": "center", "baseline": "alphabetic", "font": "Lato", "fontSize": 35, "color": "black"}, "encoding": {"text": {"field": "s"}}}
]},
{"data": {"name": "d"}, "transform": [{"filter": "datum.p=='S6'"}], "width": 259, "height": 194,
"encoding": {"x": {"field": "t", "type": "quantitative", "scale": {"domain": [0, 50], "nice": false}, "axis": {"values": [0,10,20,30,40,50], "title": "Time (s)"}}, "y": {"field": "v", "type": "quantitative", "scale": {"domain": [-70, 75], "nice": false}, "axis": {"values": [-60,-40,-20,0,20,40,60], "title": "MCP joints (Deg)"}}},
"layer": [
{"transform": [{"filter": "datum.k=='L'"}], "mark": {"type": "line", "color": "#0072BD", "strokeWidth": 1.1}},
{"transform": [{"filter": "datum.k=='A'"}], "mark": {"type": "rule", "color": "black", "strokeWidth": 8}, "encoding": {"y2": {"field": "v2"}}},
{"transform": [{"filter": "datum.k=='U'"}], "mark": {"type": "point", "filled": true, "color": "black", "opacity": 1, "strokeWidth": 0, "size": 484, "shape": "M0,-1L1.05,1L-1.05,1Z", "yOffset": 11}},
{"transform": [{"filter": "datum.k=='D'"}], "mark": {"type": "point", "filled": true, "color": "black", "opacity": 1, "strokeWidth": 0, "size": 484, "shape": "M0,1L1.05,-1L-1.05,-1Z", "yOffset": -11}},
{"transform": [{"filter": "datum.k=='S'"}], "mark": {"type": "text", "align": "left", "baseline": "alphabetic", "font": "Lato", "fontSize": 33, "color": "black"}, "encoding": {"text": {"field": "s"}}},
{"transform": [{"filter": "datum.k=='W'"}], "mark": {"type": "text", "align": "center", "baseline": "alphabetic", "font": "Lato", "fontSize": 35, "color": "black"}, "encoding": {"text": {"field": "s"}}}
]},
{"data": {"name": "d"}, "transform": [{"filter": "datum.p=='S7'"}], "width": 259, "height": 194,
"encoding": {"x": {"field": "t", "type": "quantitative", "scale": {"domain": [0, 50], "nice": false}, "axis": {"values": [0,10,20,30,40,50], "title": "Time (s)"}}, "y": {"field": "v", "type": "quantitative", "scale": {"domain": [-70, 75], "nice": false}, "axis": {"values": [-60,-40,-20,0,20,40,60], "title": "MCP joints (Deg)"}}},
"layer": [
{"transform": [{"filter": "datum.k=='L'"}], "mark": {"type": "line", "color": "#0072BD", "strokeWidth": 1.1}},
{"transform": [{"filter": "datum.k=='A'"}], "mark": {"type": "rule", "color": "black", "strokeWidth": 8}, "encoding": {"y2": {"field": "v2"}}},
{"transform": [{"filter": "datum.k=='U'"}], "mark": {"type": "point", "filled": true, "color": "black", "opacity": 1, "strokeWidth": 0, "size": 484, "shape": "M0,-1L1.05,1L-1.05,1Z", "yOffset": 11}},
{"transform": [{"filter": "datum.k=='D'"}], "mark": {"type": "point", "filled": true, "color": "black", "opacity": 1, "strokeWidth": 0, "size": 484, "shape": "M0,1L1.05,-1L-1.05,-1Z", "yOffset": -11}},
{"transform": [{"filter": "datum.k=='S'"}], "mark": {"type": "text", "align": "left", "baseline": "alphabetic", "font": "Lato", "fontSize": 33, "color": "black"}, "encoding": {"text": {"field": "s"}}},
{"transform": [{"filter": "datum.k=='W'"}], "mark": {"type": "text", "align": "center", "baseline": "alphabetic", "font": "Lato", "fontSize": 35, "color": "black"}, "encoding": {"text": {"field": "s"}}}
]},
{
"width": 273, "height": 168,
"data": {"name": "sc"},
"encoding": {
"x": {"field": "x", "type": "quantitative", "scale": {"domain": [-0.25, 41.5], "nice": false, "zero": false},
"axis": {"orient": "top", "values": [0,10,20,30,40], "domain": false, "ticks": false, "tickSize": 0, "labelPadding": -23, "labelBaseline": "middle", "labelFont": "Lato", "labelFontSize": 12, "labelColor": "#595959", "grid": true, "gridColor": "#d9d9d9", "gridOpacity": {"condition": {"test": "datum.value == 0", "value": 0}, "value": 1}, "title": "UEFM score", "titleFont": "Lato", "titleFontSize": 24, "titleFontWeight": "normal", "titleColor": "black", "titleY": -7, "titleBaseline": "alphabetic"}},
"y": {"field": "y", "type": "quantitative", "scale": {"domain": [-35, 0.85], "nice": false, "zero": false},
"axis": {"values": [0,-5,-10,-15,-20,-25,-30,-35], "domain": false, "ticks": false, "tickSize": 0, "labelPadding": 13, "labelFont": "Lato", "labelFontSize": 12, "labelColor": "#595959", "grid": true, "gridColor": "#d9d9d9", "gridOpacity": {"condition": {"test": "datum.value > -10 || datum.value < -30", "value": 0}, "value": 1}, "title": "Smoothness", "titleFont": "Lato", "titleFontSize": 25, "titleFontWeight": "normal", "titleColor": "black", "titleX": -46, "titleY": 91, "titleBaseline": "middle", "titleAngle": -90}}
},
"layer": [
{"transform": [{"filter": "datum.k=='B'"}], "mark": {"type": "rule", "color": "#d9d9d9", "strokeWidth": 1}, "encoding": {"x2": {"field": "x2"}}},
{"transform": [{"filter": "datum.k=='P'"}, {"regression": "y", "on": "x"}], "mark": {"type": "line", "color": "black", "strokeWidth": 3.5, "strokeDash": [0.1, 9.3], "strokeCap": "round"}},
{"transform": [{"filter": "datum.k=='P'"}], "mark": {"type": "point", "filled": true, "color": "#ff0000", "opacity": 1, "size": 50, "strokeWidth": 0}},
{"transform": [{"filter": "datum.k=='T'"}], "mark": {"type": "text", "font": "Lato", "fontSize": 21, "align": "center", "baseline": "alphabetic", "color": "black"}, "encoding": {"text": {"field": "s"}}}
]
}
],
"config": {
"view": {"stroke": null},
"axis": {"grid": false, "domainColor": "#262626", "domainWidth": 1, "tickColor": "#262626", "tickSize": -3, "labelColor": "#262626", "titleColor": "#262626", "labelFont": "Liberation Sans", "titleFont": "Liberation Sans", "labelFontSize": 12, "titleFontSize": 13, "titleFontWeight": "normal", "labelFlush": false, "labelOverlap": false},
"axisX": {"labelPadding": 7, "titlePadding": 8},
"axisY": {"labelPadding": 10, "titleX": -31, "titleBaseline": "middle"}
}
}
